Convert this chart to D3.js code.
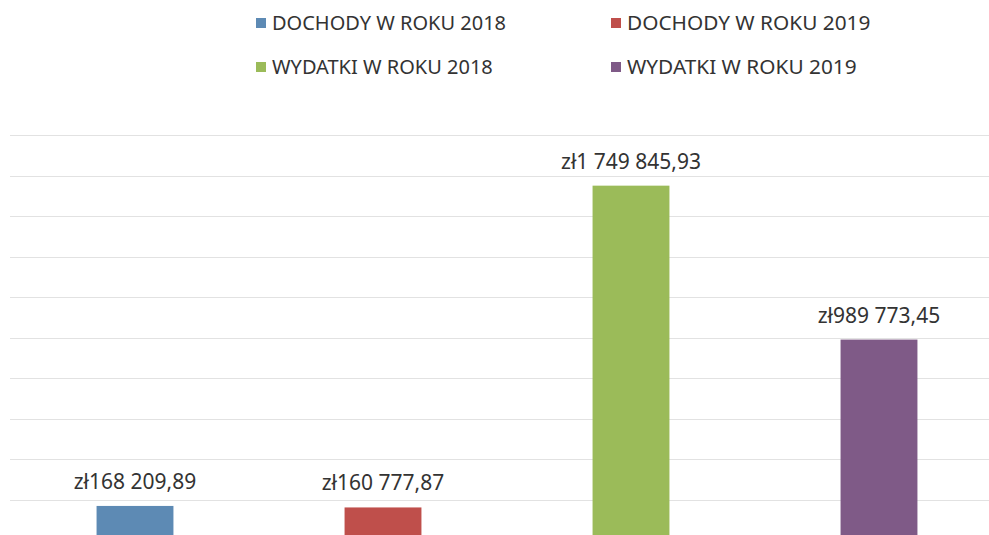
<!DOCTYPE html>
<html>
<head>
<meta charset="utf-8">
<script src="https://cdn.jsdelivr.net/npm/d3@7"></script>
<style>
  body { margin: 0; background: #fff; }
  text { font-family: "Noto Sans", "Open Sans", sans-serif; fill: #333; }
</style>
</head>
<body>
<div id="chart"></div>
<script>
// data
let categories = ["DOCHODY W ROKU 2018", "DOCHODY W ROKU 2019", "WYDATKI W ROKU 2018", "WYDATKI W ROKU 2019"];
let values = [168209.89, 160777.87, 1749845.93, 989773.45];
let labels = ["zł168 209,89", "zł160 777,87", "zł1 749 845,93", "zł989 773,45"];
let colors = ["#5d8ab4", "#bf4f4b", "#9bbb59", "#7f5a87"];
let yTicks = [0, 200000, 400000, 600000, 800000, 1000000, 1200000, 1400000, 1600000, 1800000, 2000000];

let width = 989, height = 535;

let svg = d3.select("#chart").append("svg")
    .attr("width", width)
    .attr("height", height);

let x = d3.scaleBand()
    .domain(categories)
    .range([11, 1003])
    .paddingInner(0.69)
    .paddingOuter(0.345);

let y = d3.scaleLinear()
    .domain([0, 2000000])
    .range([540, 135]);

// gridlines
svg.append("g").selectAll("line")
    .data(yTicks)
    .enter().append("line")
    .attr("x1", 10)
    .attr("x2", width)
    .attr("y1", d => Math.round(y(d)) + 0.5)
    .attr("y2", d => Math.round(y(d)) + 0.5)
    .attr("stroke", "#e2e2e2")
    .attr("stroke-width", 1);

// bars
svg.append("g").selectAll("rect")
    .data(values)
    .enter().append("rect")
    .attr("x", (d, i) => x(categories[i]))
    .attr("y", d => y(d))
    .attr("width", x.bandwidth())
    .attr("height", d => y(0) - y(d))
    .attr("fill", (d, i) => colors[i]);

// value labels
svg.append("g").selectAll("text")
    .data(values)
    .enter().append("text")
    .attr("x", (d, i) => x(categories[i]) + x.bandwidth() / 2)
    .attr("y", d => y(d) - 17)
    .attr("text-anchor", "middle")
    .style("font-size", "21px")
    .text((d, i) => labels[i]);

// legend, two columns
let legendX = [256, 611];
let legendY = [30, 74];
let legend = svg.append("g").selectAll("g")
    .data(categories)
    .enter().append("g")
    .attr("transform", (d, i) => "translate(" + legendX[i % 2] + "," + legendY[Math.floor(i / 2)] + ")");

legend.append("rect")
    .attr("x", 0)
    .attr("y", -12)
    .attr("width", 10)
    .attr("height", 10)
    .attr("fill", (d, i) => colors[i]);

legend.append("text")
    .attr("x", 16)
    .attr("y", 0)
    .style("font-size", (d, i) => i % 2 ? "20.8px" : "20px")
    .text(d => d);
</script>
</body>
</html>
